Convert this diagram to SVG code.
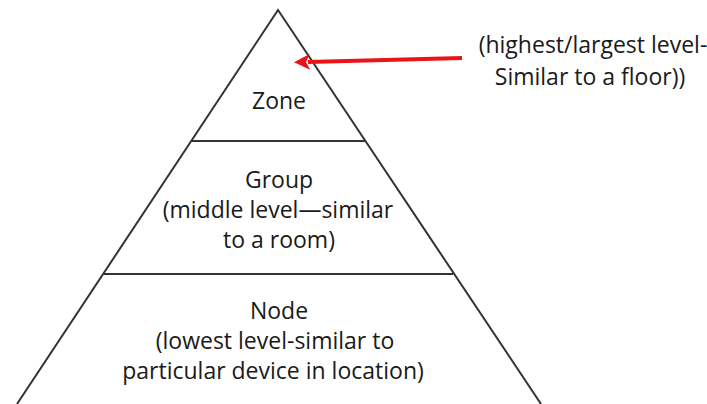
<svg xmlns="http://www.w3.org/2000/svg" width="707" height="404" viewBox="0 0 707 404">
<defs>
<style>
.t{font-family:"Open Sans","Liberation Sans",Arial,sans-serif;font-size:23px;fill:#1a1a1a;text-anchor:middle}
.ln{stroke:#333;stroke-width:2;fill:none}
</style>
<marker id="ah" markerWidth="4" markerHeight="4" refX="0.5" refY="2" orient="auto" markerUnits="strokeWidth">
<path d="M0,2 L4,0 L3,2 L4,4 Z" fill="#e8141a" transform="rotate(180 2 2)"/>
</marker>
</defs>
<rect width="707" height="404" fill="#fff"/>
<g id="pyramid">
<path class="ln" d="M17,404 L278,10 L541,404"/>
</g>
<g id="zone">
<text class="t" x="279" y="109">Zone</text>
</g>
<g id="group">
<line class="ln" x1="192" y1="141" x2="365" y2="141"/>
<text class="t" x="279" y="188">Group</text>
<text class="t" x="278" y="218">(middle level—similar</text>
<text class="t" x="279" y="248">to a room)</text>
</g>
<g id="node">
<line class="ln" x1="104" y1="274" x2="453" y2="274"/>
<text class="t" x="279" y="319">Node</text>
<text class="t" x="275" y="349">(lowest level-similar to</text>
<text class="t" x="273" y="379">particular device in location)</text>
</g>
<g id="note">
<text class="t" x="593" y="53">(highest/largest level-</text>
<text class="t" x="590" y="85">Similar to a floor))</text>
</g>
<g id="connectors">
<line x1="462" y1="58" x2="308" y2="62" stroke="#e8141a" stroke-width="4" marker-end="url(#ah)"/>
</g>
</svg>
